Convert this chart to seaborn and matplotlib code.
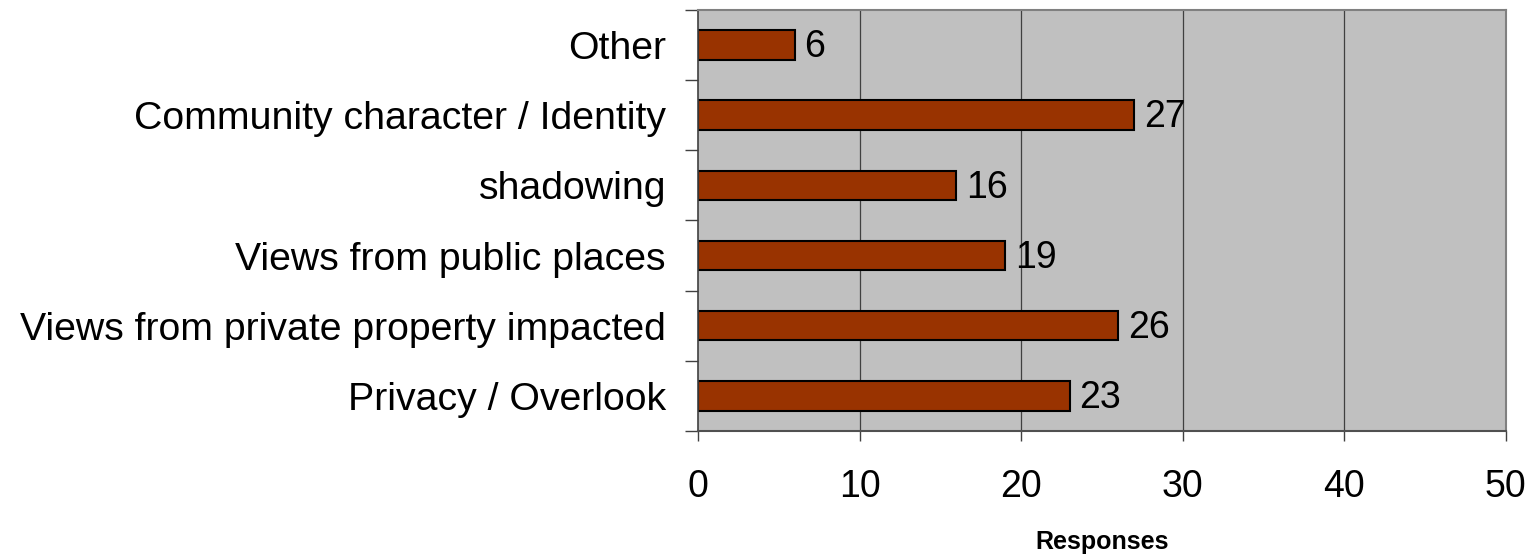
import numpy as np
import pandas as pd
import matplotlib
matplotlib.use("Agg")
import matplotlib.pyplot as plt
import seaborn as sns

# data
categories = ["Other", "Community character / Identity", "shadowing",
              "Views from public places", "Views from private property impacted",
              "Privacy / Overlook"]
responses = [6, 27, 16, 19, 26, 23]
x_ticks = [0, 10, 20, 30, 40, 50]

df = pd.DataFrame({"category": categories, "responses": responses})

sns.set_style("white")
plt.rcParams["font.family"] = ["Liberation Sans", "DejaVu Sans"]
plt.rcParams["text.color"] = "black"
plt.rcParams["axes.labelcolor"] = "black"
plt.rcParams["xtick.labelcolor"] = "black"
plt.rcParams["ytick.labelcolor"] = "black"

fig = plt.figure(figsize=(15.39, 5.54), dpi=100)
ax = fig.add_axes([0.4535, 0.222, 0.525, 0.760])
ax.set_facecolor("#C0C0C0")

sns.barplot(data=df, y="category", x="responses", orient="h",
            color="#993300", edgecolor="black", linewidth=1.5,
            width=0.42, saturation=1, ax=ax)

ax.set_xlim(0, 50)
ax.set_ylim(len(categories) - 0.5, -0.5)
ax.set_xticks(x_ticks)
ax.set_xticklabels([str(t) for t in x_ticks], fontsize=27)
ax.tick_params(axis="x", bottom=True, length=7, width=1, color="#404040", pad=20)

# category labels, ticks between categories
ax.tick_params(axis="y", which="major", left=False, length=0, labelsize=28.3, pad=23)
ax.set_yticks(np.arange(-0.5, len(categories), 1), minor=True)
ax.tick_params(axis="y", which="minor", left=True, length=9.5, width=1, color="#404040")

for t in x_ticks[1:-1]:
    ax.axvline(t, color="#404040", linewidth=0.9, zorder=0.5)
ax.set_axisbelow(True)

for i, v in enumerate(responses):
    ax.text(v + 0.6, i + 0.03, str(v), va="center", ha="left", fontsize=27)

for side in ["top", "right"]:
    ax.spines[side].set_color("#808080")
    ax.spines[side].set_linewidth(1.5)
ax.spines["bottom"].set_color("#505050")
ax.spines["bottom"].set_linewidth(1.5)
ax.spines["left"].set_color("#404040")
ax.spines["left"].set_linewidth(1.2)

ax.set_ylabel("")
ax.set_xlabel("Responses", fontsize=18, fontweight="bold", labelpad=18)

fig.savefig("out.png", dpi=100)
